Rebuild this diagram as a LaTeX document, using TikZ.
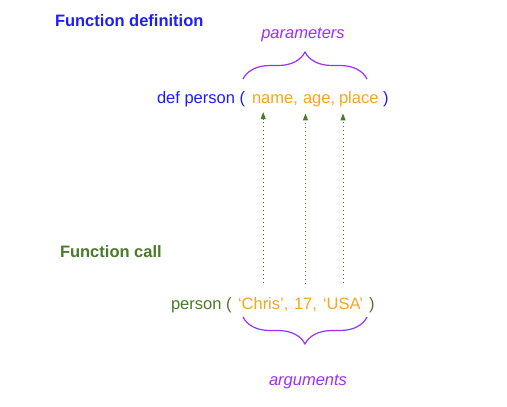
\documentclass[tikz,border=0pt]{standalone}
\usepackage{fontspec}
\setmainfont{Liberation Sans}
\usetikzlibrary{arrows.meta,decorations.pathreplacing}
\definecolor{defblue}{RGB}{30,30,250}
\definecolor{callgreen}{RGB}{74,122,42}
\definecolor{valorange}{RGB}{245,166,35}
\definecolor{notepurple}{RGB}{155,48,255}
\tikzset{
	txt/.style={inner sep=0pt, outer sep=0pt, anchor=base west, font=\fontsize{16.5bp}{20bp}\selectfont},
	heading/.style={txt, font=\fontsize{16.5bp}{20bp}\selectfont\bfseries},
	note/.style={txt, anchor=base, color=notepurple, font=\fontsize{16.5bp}{20bp}\selectfont\itshape},
	curly/.style={notepurple, line width=1.2bp, decorate, decoration={brace, amplitude=27bp}},
	passarrow/.style={callgreen, line width=1bp, dash pattern=on 1bp off 3bp, -{Triangle[length=7bp,width=5bp]}, shorten <=14bp, shorten >=7bp}
}
\begin{document}
\begin{tikzpicture}[x=1bp, y=-1bp]
		%%%%% START %%%%%
		
		\useasboundingbox[fill=white] (0, 0) rectangle (507, 406);
		
		\node[heading, color=defblue] (defhead) at (55, 26) {Function definition};
		\node[note] (params) at (303, 38) {parameters};
		\draw[curly] (243, 79) -- (367, 79);
		
		\node[txt, color=defblue] (defkw) at (157, 103) {def person (};
		\node[txt, color=valorange] (pname) at (252, 103) {name,};
		\node[txt, color=valorange] (page) at (303, 103) {age,};
		\node[txt, color=valorange] (pplace) at (339, 103) {place};
		\node[txt, color=defblue] (dclose) at (383, 103) {)};
		
		\node[heading, color=callgreen] (callhead) at (60, 257) {Function call};
		
		\node[txt, color=callgreen] (cperson) at (171, 309) {person (};
		\node[txt, color=valorange] (cchris) at (238, 309) {‘Chris’,};
		\node[txt, color=valorange] (cage) at (294, 309) {17,};
		\node[txt, color=valorange] (cplace) at (323, 309) {‘USA’};
		\node[txt, color=callgreen] (cclose) at (369, 309) {)};
		
		\draw[passarrow] (cchris.north) -- (cchris.north |- pname.south);
		\draw[passarrow] (cage.north) -- (cage.north |- page.south);
		\draw[passarrow] (cplace.north) -- (cplace.north |- pplace.south);
		
		\draw[curly] (367, 317) -- (243, 317);
		\node[note] (args) at (308, 385) {arguments};
		
		%%%%% END %%%%%
	\end{tikzpicture}
\end{document}
